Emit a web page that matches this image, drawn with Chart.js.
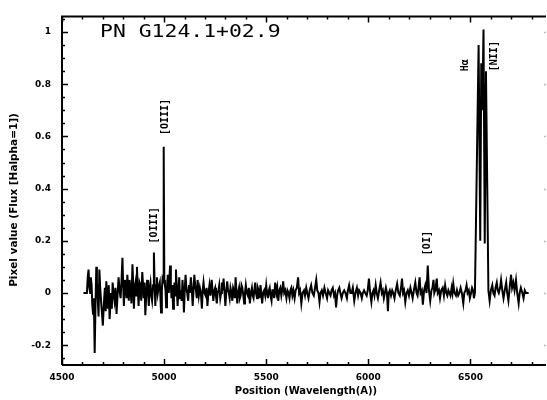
<!DOCTYPE html>
<html>
<head>
<meta charset="utf-8">
<script src="https://cdn.jsdelivr.net/npm/chart.js@4.4.0/dist/chart.umd.min.js"></script>
<style>
  html, body { margin: 0; padding: 0; background: #fff; }
  #wrap { width: 547px; height: 400px; }
</style>
</head>
<body>
<div id="wrap"><canvas id="spectrum"></canvas></div>
<script>
// wavelength (Angstrom) and normalised flux
const wavelengths = [
  4605, 4622, 4626, 4630, 4634, 4638, 4641, 4645, 4648, 4652, 4656, 4660,
  4664, 4668, 4671, 4675, 4679, 4683, 4687, 4692, 4696, 4700, 4705, 4710,
  4714, 4717, 4721, 4725, 4729, 4733, 4737, 4740, 4744, 4748, 4752, 4757,
  4762, 4767, 4772, 4777, 4782, 4787, 4791, 4796, 4800, 4803, 4808, 4812,
  4816, 4820, 4824, 4827, 4831, 4835, 4840, 4845, 4849, 4852, 4856, 4860,
  4864, 4867, 4871, 4875, 4880, 4884, 4888, 4893, 4897, 4900, 4904, 4908,
  4913, 4917, 4921, 4925, 4929, 4933, 4937, 4941, 4946, 4950, 4954, 4957,
  4961, 4965, 4969, 4973, 4979, 4985, 4989, 4992, 4995, 4998, 5001, 5004,
  5007, 5010, 5014, 5018, 5023, 5029, 5033, 5036, 5040, 5044, 5048, 5051,
  5055, 5058, 5062, 5066, 5070, 5074, 5078, 5082, 5086, 5090, 5094, 5097,
  5101, 5105, 5109, 5113, 5118, 5122, 5126, 5131, 5135, 5140, 5144, 5148,
  5152, 5156, 5160, 5164, 5170, 5175, 5180, 5185, 5189, 5193, 5198, 5203,
  5208, 5212, 5217, 5222, 5227, 5233, 5237, 5241, 5246, 5250, 5254, 5258,
  5262, 5266, 5270, 5275, 5279, 5283, 5287, 5291, 5296, 5300, 5305, 5309,
  5313, 5317, 5321, 5325, 5330, 5334, 5338, 5342, 5346, 5350, 5354, 5358,
  5362, 5367, 5371, 5375, 5379, 5383, 5388, 5392, 5396, 5400, 5405, 5410,
  5415, 5420, 5425, 5430, 5434, 5438, 5442, 5446, 5450, 5455, 5459, 5463,
  5467, 5472, 5476, 5480, 5485, 5490, 5495, 5500, 5504, 5508, 5513, 5517,
  5521, 5526, 5530, 5535, 5539, 5544, 5550, 5554, 5559, 5564, 5569, 5574,
  5578, 5583, 5588, 5593, 5599, 5604, 5609, 5614, 5618, 5623, 5628, 5633,
  5639, 5644, 5650, 5656, 5661, 5666, 5672, 5678, 5685, 5690, 5696, 5701,
  5707, 5713, 5720, 5726, 5733, 5739, 5745, 5750, 5756, 5761, 5766, 5772,
  5778, 5785, 5791, 5798, 5803, 5809, 5815, 5820, 5826, 5832, 5837, 5842,
  5847, 5852, 5858, 5863, 5869, 5875, 5882, 5888, 5895, 5900, 5906, 5912,
  5918, 5924, 5931, 5937, 5944, 5950, 5955, 5962, 5968, 5973, 5979, 5985,
  5992, 5997, 6003, 6009, 6015, 6020, 6025, 6030, 6036, 6041, 6047, 6053,
  6060, 6066, 6071, 6076, 6081, 6086, 6091, 6096, 6100, 6105, 6111, 6117,
  6122, 6128, 6134, 6141, 6147, 6154, 6160, 6165, 6170, 6175, 6181, 6187,
  6193, 6199, 6206, 6212, 6217, 6223, 6230, 6236, 6241, 6246, 6251, 6256,
  6262, 6267, 6273, 6279, 6285, 6291, 6297, 6303, 6309, 6314, 6319, 6323,
  6327, 6331, 6335, 6340, 6346, 6351, 6357, 6364, 6370, 6376, 6382, 6387,
  6392, 6397, 6402, 6408, 6412, 6416, 6422, 6429, 6434, 6440, 6446, 6452,
  6458, 6465, 6470, 6476, 6481, 6486, 6492, 6497, 6503, 6508, 6513, 6517,
  6522, 6540, 6548, 6553, 6558, 6564, 6570, 6576, 6588, 6594, 6600, 6607,
  6612, 6618, 6623, 6629, 6634, 6639, 6645, 6650, 6656, 6662, 6668, 6675,
  6680, 6686, 6692, 6699, 6704, 6710, 6716, 6723, 6729, 6736, 6741, 6747,
  6754, 6760, 6766, 6772, 6785
];
const flux = [
  0.00, 0.00, 0.06, 0.09, 0.02, 0.00, 0.06, 0.03, -0.04, -0.08, -0.02, -0.23,
  -0.05, 0.10, 0.04, -0.02, -0.09, 0.09, 0.02, -0.04, -0.08, -0.125, -0.04, 0.02,
  -0.07, 0.045, -0.02, -0.06, 0.03, -0.10, -0.05, 0.00, -0.06, 0.04, 0.00, -0.03,
  0.02, -0.08, -0.01, 0.06, 0.01, -0.02, 0.04, 0.135, 0.02, -0.05, 0.05, 0.03,
  -0.02, 0.07, 0.01, -0.03, 0.05, 0.02, -0.04, 0.11, 0.03, -0.06, 0.02, 0.04,
  -0.01, 0.10, 0.02, -0.05, 0.04, 0.03, -0.03, 0.08, 0.03, -0.02, 0.04, -0.085,
  0.00, 0.05, 0.01, -0.05, 0.02, 0.04, -0.01, -0.03, 0.03, 0.155, 0.02, -0.05,
  0.03, 0.06, 0.00, 0.02, 0.04, -0.075, 0.01, 0.05, 0.04, 0.56, 0.05, 0.03,
  0.01, -0.055, 0.02, 0.07, 0.00, 0.105, 0.03, -0.02, 0.03, -0.06, 0.00, 0.04,
  -0.01, 0.09, 0.02, -0.05, 0.01, 0.06, -0.02, 0.01, -0.03, 0.05, 0.00, -0.075,
  0.01, 0.07, 0.02, 0.00, -0.03, 0.03, 0.00, 0.06, 0.02, -0.05, 0.01, 0.07,
  0.03, 0.01, -0.02, 0.05, -0.01, 0.02, 0.00, -0.06, 0.01, 0.04, 0.00, -0.01,
  0.02, -0.05, 0.00, 0.03, -0.01, 0.05, 0.01, -0.03, 0.01, 0.02, -0.01, -0.04,
  0.00, 0.01, 0.03, -0.02, 0.00, 0.04, 0.01, 0.055, 0.00, -0.05, 0.01, 0.045,
  0.01, 0.00, -0.02, 0.02, 0.00, -0.03, 0.02, 0.01, -0.02, 0.06, 0.01, -0.04,
  0.00, 0.02, -0.02, -0.01, 0.03, 0.02, -0.01, -0.04, 0.00, 0.03, 0.00, -0.01,
  0.02, -0.04, 0.00, 0.02, -0.01, -0.02, 0.01, 0.04, 0.00, -0.02, 0.02, 0.01,
  -0.02, 0.03, 0.00, -0.04, 0.00, 0.01, -0.01, 0.03, 0.00, -0.02, 0.01, 0.02,
  -0.01, -0.03, 0.01, 0.01, -0.02, 0.04, 0.00, 0.02, -0.03, 0.01, 0.02, -0.01,
  0.01, 0.045, 0.00, 0.01, -0.02, 0.01, 0.00, -0.02, 0.01, 0.02, -0.01, 0.01,
  -0.02, 0.01, 0.02, 0.06, 0.00, 0.01, -0.04, 0.00, 0.01, -0.01, 0.02, 0.00,
  -0.02, 0.01, 0.03, 0.00, -0.01, 0.02, 0.05, 0.01, 0.00, -0.035, 0.00, 0.01,
  -0.01, 0.02, 0.00, -0.02, 0.01, 0.00, -0.01, 0.01, 0.02, -0.01, 0.00, -0.055,
  -0.01, 0.01, 0.02, 0.00, -0.02, 0.00, 0.01, 0.00, -0.02, 0.01, 0.03, 0.00,
  0.00, 0.02, -0.03, 0.00, 0.02, -0.01, 0.01, 0.00, -0.02, 0.00, 0.01, 0.00,
  -0.01, 0.01, 0.055, 0.00, -0.035, 0.00, 0.01, -0.01, 0.03, 0.00, -0.02, 0.01,
  0.04, 0.00, 0.01, -0.02, 0.00, 0.02, 0.00, -0.07, 0.00, 0.01, -0.01, 0.01,
  0.00, -0.02, 0.01, 0.035, 0.00, -0.01, 0.02, 0.055, 0.00, 0.01, -0.035, 0.00,
  0.01, -0.01, 0.02, 0.00, -0.02, 0.01, 0.04, 0.00, -0.01, 0.02, 0.06, 0.00,
  0.01, -0.045, 0.01, 0.03, 0.00, 0.105, 0.01, -0.03, 0.01, 0.02, 0.05, 0.00,
  0.01, 0.03, 0.055, 0.00, 0.01, -0.02, 0.01, 0.02, -0.01, 0.03, 0.00, -0.01,
  0.01, 0.00, -0.01, 0.02, 0.00, 0.035, 0.00, -0.01, 0.01, -0.01, 0.00, 0.02,
  0.00, -0.04, 0.00, 0.01, 0.03, 0.00, 0.01, -0.02, 0.00, 0.02, 0.01, -0.02,
  0.00, 0.95, 0.20, 0.88, 0.70, 1.01, 0.19, 0.85, 0.01, -0.03, 0.01, 0.03,
  0.00, -0.01, 0.02, 0.04, 0.01, 0.00, 0.02, 0.05, 0.01, -0.02, 0.01, 0.04,
  0.00, -0.03, 0.02, 0.07, 0.02, 0.04, 0.01, 0.05, 0.00, -0.04, 0.00, 0.02,
  0.00, -0.02, 0.01, 0.00, 0.00
];

const xTicks = [4500, 5000, 5500, 6000, 6500];
const yTicks = [-0.2, 0, 0.2, 0.4, 0.6, 0.8, 1];
const lineNames = ['[OIII]', '[OIII]', '[OI]', 'H\u03b1', '[NII]'];
const lineWaves = [4951, 5005, 6291, 6476, 6617];
const labelBase = [0.19, 0.605, 0.145, 0.85, 0.85];

const points = wavelengths.map((w, i) => ({ x: w, y: flux[i] }));

const frame = {
  id: 'frame',
  afterDraw(chart) {
    const { ctx, chartArea: { left, right, top, bottom }, scales: { x, y } } = chart;
    ctx.save();
    ctx.strokeStyle = '#000';
    ctx.lineWidth = 2;
    ctx.beginPath();
    ctx.moveTo(left, bottom); ctx.lineTo(left, top); ctx.lineTo(right, top);
    ctx.moveTo(left, bottom); ctx.lineTo(right, bottom);
    ctx.stroke();

    // inward ticks on bottom and top
    ctx.lineWidth = 1.5;
    for (let w = 4500; w <= 6800; w += 100) {
      const px = Math.round(x.getPixelForValue(w)) + 0.5;
      const len = w % 500 === 0 ? 6 : 3;
      ctx.beginPath();
      ctx.moveTo(px, bottom); ctx.lineTo(px, bottom - len);
      ctx.moveTo(px, top); ctx.lineTo(px, top + len);
      ctx.stroke();
    }
    // inward ticks on the left, faint ones on the right
    for (let k = -5; k <= 21; k++) {
      const v = k * 0.05;
      const py = Math.round(y.getPixelForValue(v)) + 0.5;
      if (py < top || py > bottom) continue;
      const len = k % 4 === 0 ? 6 : 3;
      ctx.strokeStyle = '#000';
      ctx.beginPath();
      ctx.moveTo(left, py); ctx.lineTo(left + len, py);
      ctx.stroke();
      if (k % 4 === 0) {
        ctx.strokeStyle = '#bbb';
        ctx.beginPath();
        ctx.moveTo(right, py); ctx.lineTo(right - 2, py);
        ctx.stroke();
      }
    }

    ctx.fillStyle = '#000';
    // object name
    ctx.save();
    ctx.translate(100, 37);
    ctx.scale(1.26, 1);
    ctx.font = '17px "DejaVu Sans Mono"';
    ctx.textBaseline = 'alphabetic';
    ctx.fillText('PN G124.1+02.9', 0, 0);
    ctx.restore();

    // emission line labels, rotated
    ctx.font = 'bold 10px "DejaVu Sans Mono"';
    ctx.textAlign = 'left';
    ctx.textBaseline = 'middle';
    lineNames.forEach((name, i) => {
      ctx.save();
      ctx.translate(x.getPixelForValue(lineWaves[i]), y.getPixelForValue(labelBase[i]));
      ctx.rotate(-Math.PI / 2);
      ctx.fillText(name, 0, 0);
      ctx.restore();
    });

    // axis titles
    ctx.font = 'bold 10px "DejaVu Sans"';
    ctx.textAlign = 'center';
    ctx.textBaseline = 'middle';
    ctx.fillText('Position (Wavelength(A))', (left + right) / 2 + 2, 391);
    ctx.save();
    ctx.translate(14, 200);
    ctx.rotate(-Math.PI / 2);
    ctx.font = 'bold 10.5px "DejaVu Sans"';
    ctx.fillText('Pixel value (Flux [Halpha=1])', 0, 0);
    ctx.restore();
    ctx.restore();
  }
};

new Chart(document.getElementById('spectrum'), {
  type: 'line',
  data: {
    datasets: [{
      data: points,
      borderColor: '#000',
      borderWidth: 2,
      pointRadius: 0,
      tension: 0,
      fill: false
    }]
  },
  options: {
    responsive: true,
    maintainAspectRatio: false,
    animation: false,
    layout: { padding: { top: 7, right: 1, left: 0, bottom: 0 } },
    plugins: { legend: { display: false }, tooltip: { enabled: false } },
    scales: {
      x: {
        type: 'linear',
        min: 4500,
        max: 6870,
        afterBuildTicks: s => { s.ticks = xTicks.map(v => ({ value: v })); },
        afterFit: s => { s.height = 35; },
        grid: { display: false, drawTicks: false },
        border: { display: false },
        ticks: {
          color: '#000',
          padding: 7,
          maxRotation: 0,
          font: { family: 'DejaVu Sans', size: 9, weight: 'bold' },
          callback: v => String(v)
        }
      },
      y: {
        min: -0.276,
        max: 1.06,
        afterBuildTicks: s => { s.ticks = yTicks.map(v => ({ value: v })); },
        afterFit: s => { s.width = 62; },
        grid: { display: false, drawTicks: false },
        border: { display: false },
        ticks: {
          color: '#000',
          padding: 11,
          font: { family: 'DejaVu Sans', size: 9, weight: 'bold' },
          callback: v => (Math.round(v * 10) / 10).toString()
        }
      }
    }
  },
  plugins: [frame]
});
</script>
</body>
</html>
